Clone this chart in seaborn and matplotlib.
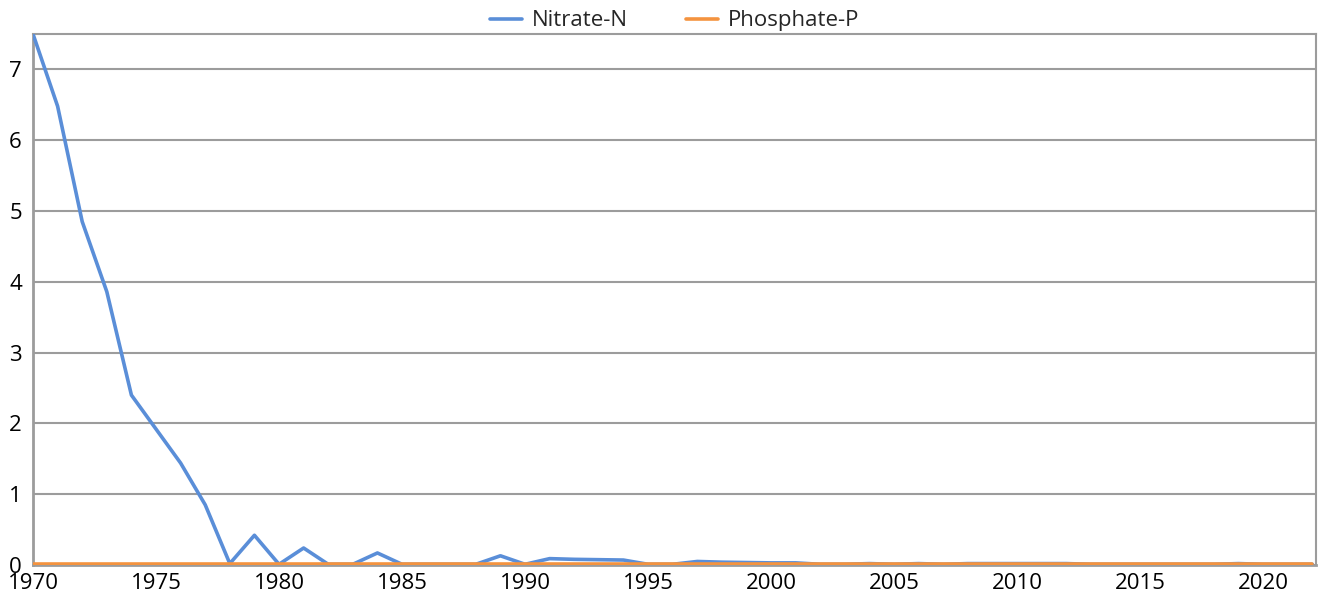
import numpy as np
import pandas as pd
import seaborn as sns
import matplotlib.pyplot as plt

years = list(range(1970, 2023))

nitrate_n = [
    7.50, 6.48, 4.85, 3.86, 2.40, 1.92, 1.44, 0.85, 0.02, 0.42,
    0.01, 0.24, 0.01, 0.01, 0.17, 0.01, 0.01, 0.01, 0.01, 0.13,
    0.01, 0.09, 0.08, 0.075, 0.07, 0.01, 0.01, 0.05, 0.04, 0.035,
    0.03, 0.03, 0.01, 0.01, 0.02, 0.01, 0.02, 0.01, 0.02, 0.02,
    0.02, 0.02, 0.02, 0.01, 0.01, 0.01, 0.01, 0.01, 0.01, 0.02,
    0.01, 0.01, 0.01,
]

phosphate_p = [0.02] * len(years)

series_names = ["Nitrate-N", "Phosphate-P"]
series_colors = ["#5A8ED8", "#F4933F"]

df = pd.DataFrame({
    "year": years * 2,
    "value": nitrate_n + phosphate_p,
    "series": [series_names[0]] * len(years) + [series_names[1]] * len(years),
})

sns.set_theme(style="white")
plt.rcParams["font.family"] = ["Open Sans", "DejaVu Sans"]

fig = plt.figure(figsize=(13.23, 6.04), dpi=100)
ax = fig.add_axes([33 / 1323, 1 - 565 / 604, (1316 - 33) / 1323, (565 - 34) / 604])

sns.lineplot(data=df, x="year", y="value", hue="series", hue_order=series_names,
             palette=series_colors, linewidth=2.6, ax=ax, legend=True, zorder=3)

ax.set_xlim(1970, 2022.15)
ax.set_ylim(0, 7.5)
ax.set_xticks(range(1970, 2021, 5))
ax.set_yticks(range(0, 8))
ax.set_xlabel("")
ax.set_ylabel("")

ax.grid(axis="y", color="#9C9C9C", linewidth=1.5, zorder=0)
ax.grid(axis="x", visible=False)
ax.set_axisbelow(True)
for side in ["left", "right", "top", "bottom"]:
    ax.spines[side].set_visible(True)
    ax.spines[side].set_color("#9C9C9C")
    ax.spines[side].set_linewidth(1.5)
ax.spines["bottom"].set_linewidth(2.0)
ax.spines["left"].set_linewidth(2.0)

ax.tick_params(axis="both", which="both", length=0, labelsize=16, colors="#000000")
ax.tick_params(axis="x", pad=6)
ax.tick_params(axis="y", pad=8)

handles, labels = ax.get_legend_handles_labels()
ax.legend(handles, labels, loc="lower center", bbox_to_anchor=(0.5, 0.988), ncol=2,
          frameon=False, fontsize=16, handlelength=1.45, columnspacing=2.6,
          handletextpad=0.45, borderaxespad=0.0)

fig.savefig("out.png", dpi=100)
